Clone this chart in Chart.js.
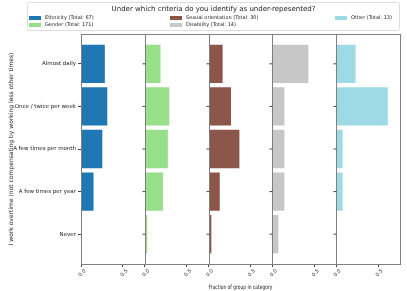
<!DOCTYPE html>
<html>
<head>
<meta charset="utf-8">
<script src="https://cdn.jsdelivr.net/npm/chart.js@4"></script>
<style>
html, body { margin: 0; padding: 0; background: #fff; }
</style>
</head>
<body>
<canvas id="chart" width="407" height="291"></canvas>
<script>
const categories = ["Almost daily", "Once / twice per week", "A few times per month", "A few times per year", "Never"];
const groups = ["Ethnicity (Total: 67)", "Gender (Total: 171)", "Sexual orientation (Total: 30)", "Disability (Total: 14)", "Other (Total: 13)"];
const ethnicity = [0.284, 0.313, 0.254, 0.149, 0];
const gender = [0.187, 0.292, 0.275, 0.216, 0.029];
const sexualOrientation = [0.167, 0.267, 0.367, 0.133, 0.033];
const disability = [0.429, 0.143, 0.143, 0.143, 0.071];
const other = [0.231, 0.615, 0.077, 0.077, 0];
const xTicks = [0, 0.5];
const colors = ["#1f77b4", "#98df8a", "#8c564b", "#c7c7c7", "#9edae5"];

const legendTitle = "Under which criteria do you identify as under-repesented?";
const fontFamily = "'DejaVu Sans', sans-serif";
const spineColor = "#808080";

const series = [ethnicity, gender, sexualOrientation, disability, other];

const datasets = series.map((values, i) => ({
    label: groups[i],
    data: values.map((v, j) => ({ x: v, y: j })),
    backgroundColor: colors[i],
    borderWidth: 0,
    xAxisID: "x" + i,
    yAxisID: "y",
    grouped: false,
    barPercentage: 0.9,
    categoryPercentage: 1.0
}));

const scales = {
    y: {
        type: "linear",
        reverse: true,
        offset: false,
        min: -0.7,
        max: 4.7,
        afterBuildTicks: s => { s.ticks = categories.map((c, i) => ({ value: i })); },
        afterFit: s => { s.width = 81; },
        ticks: {
            callback: v => categories[v],
            font: { family: fontFamily, size: 5.5 },
            color: "#222",
            padding: 2
        },
        grid: { drawOnChartArea: false, offset: false, tickLength: 3, color: "#444" },
        border: { display: false },
        title: {
            display: true,
            text: "I work overtime (not compensating by working less other times)",
            font: { family: fontFamily, size: 6 },
            color: "#222",
            padding: { top: 8, bottom: 0 }
        }
    }
};

series.forEach((s, i) => {
    scales["x" + i] = {
        type: "linear",
        position: "bottom",
        stack: "panels",
        stackWeight: 1,
        offset: false,
        min: 0,
        max: 0.76,
        afterBuildTicks: sc => { sc.ticks = xTicks.map(v => ({ value: v })); },
        afterFit: sc => { sc.height = 27; },
        ticks: {
            minRotation: 45,
            maxRotation: 45,
            labelOffset: 4,
            callback: v => v.toFixed(1),
            font: { family: fontFamily, size: 5 },
            color: "#222",
            padding: 1
        },
        grid: { drawOnChartArea: false, offset: false, tickLength: 3, color: "#444" },
        border: { display: false },
        title: {
            display: i === 2,
            text: "Fraction of group in category",
            font: { family: fontFamily, size: 6 },
            color: "#222",
            padding: { top: 5, bottom: 0 }
        }
    };
});

// panel frames + y tick marks on every panel
const panelFrames = {
    id: "panelFrames",
    afterDatasetsDraw(chart) {
        const ctx = chart.ctx;
        const area = chart.chartArea;
        const yScale = chart.scales.y;
        ctx.save();
        ctx.strokeStyle = spineColor;
        ctx.lineWidth = 1;
        series.forEach((s, i) => {
            const sc = chart.scales["x" + i];
            const l = Math.round(sc.left) + 0.5;
            const r = Math.round(sc.right) + 0.5;
            ctx.strokeRect(l, Math.round(area.top) + 0.5, r - l, Math.round(area.bottom - area.top));
            if (i > 0) {
                ctx.beginPath();
                categories.forEach((c, j) => {
                    const y = yScale.getPixelForValue(j);
                    ctx.moveTo(l - 3, y);
                    ctx.lineTo(l, y);
                });
                ctx.strokeStyle = "#444";
                ctx.stroke();
                ctx.strokeStyle = spineColor;
            }
        });
        ctx.restore();
    }
};

// legend in three columns with a title, in a frame above the panels
const frameLegend = {
    id: "frameLegend",
    afterDraw(chart) {
        const ctx = chart.ctx;
        ctx.save();
        ctx.strokeStyle = "#dddddd";
        ctx.lineWidth = 1;
        ctx.fillStyle = "#fff";
        ctx.beginPath();
        ctx.roundRect(27.5, 2.5, 372, 28, 2);
        ctx.fill();
        ctx.stroke();

        ctx.fillStyle = "#222";
        ctx.textBaseline = "middle";
        ctx.textAlign = "center";
        ctx.font = "7px " + fontFamily;
        ctx.fillText(legendTitle, 213.5, 9.5);

        const colX = [29, 170, 335];
        const rowY = [18, 25];
        ctx.textAlign = "left";
        ctx.font = "5px " + fontFamily;
        groups.forEach((g, i) => {
            const col = Math.floor(i / 2);
            const row = i % 2;
            const x = colX[col];
            const y = rowY[row];
            ctx.fillStyle = colors[i];
            ctx.fillRect(x, y - 2, 12, 4);
            ctx.fillStyle = "#222";
            ctx.fillText(g, x + 16, y);
        });
        ctx.restore();
    }
};

new Chart(document.getElementById("chart").getContext("2d"), {
    type: "bar",
    data: { datasets: datasets },
    options: {
        indexAxis: "y",
        responsive: false,
        animation: false,
        devicePixelRatio: 1,
        layout: { padding: { left: 0, top: 34, right: 7, bottom: 0 } },
        plugins: {
            legend: { display: false },
            tooltip: { enabled: false }
        },
        scales: scales
    },
    plugins: [panelFrames, frameLegend]
});
</script>
</body>
</html>
